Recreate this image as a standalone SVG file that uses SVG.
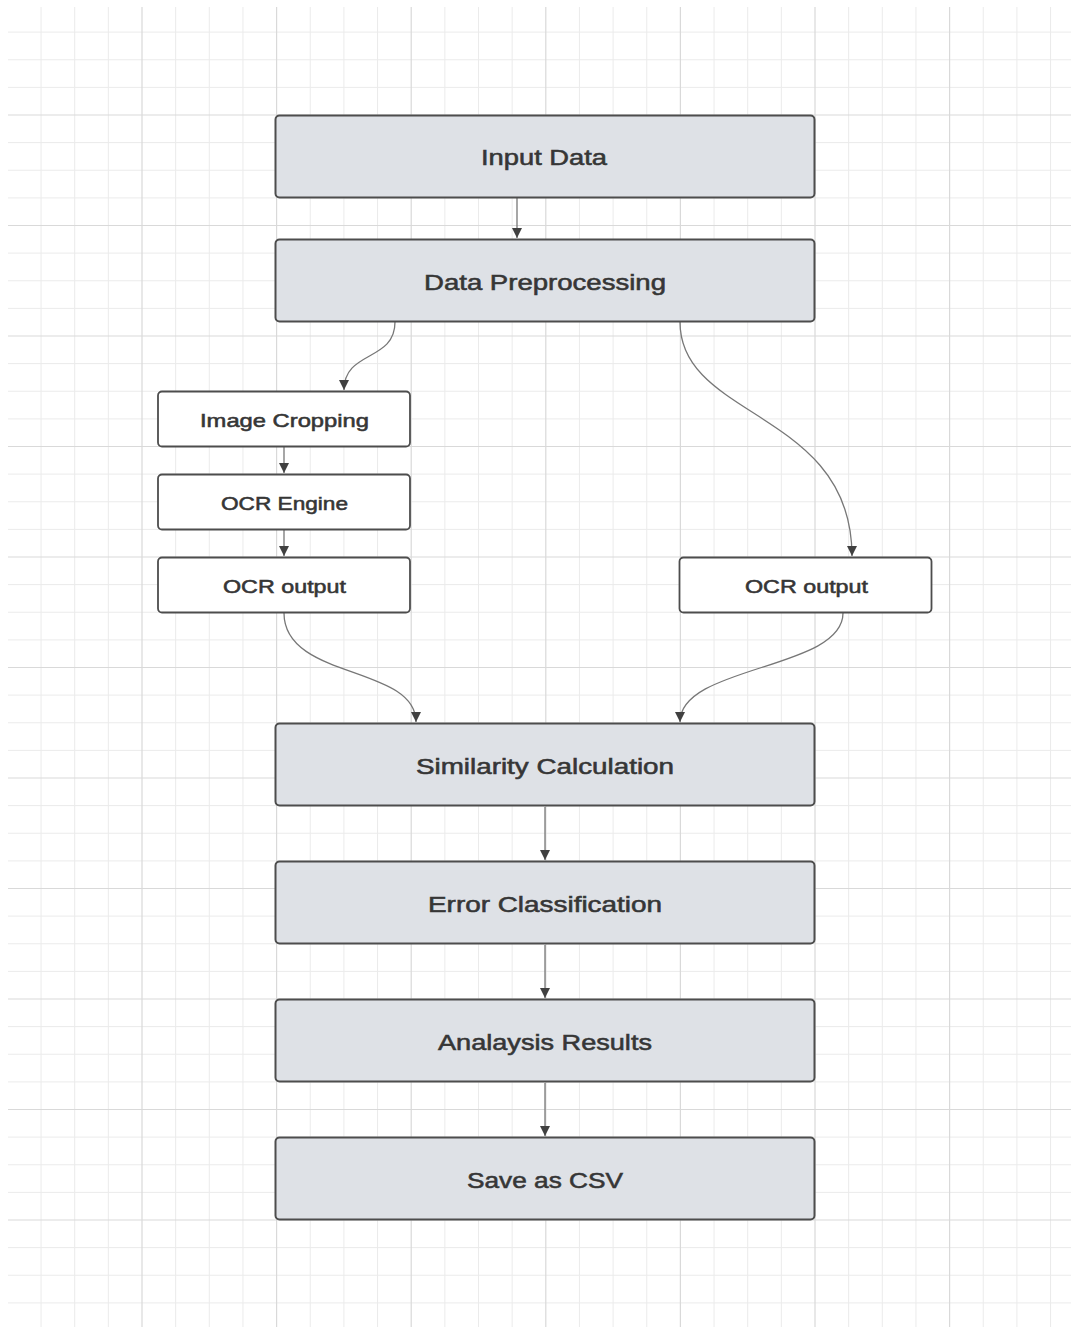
<svg xmlns="http://www.w3.org/2000/svg" width="1071" height="1327" viewBox="0 0 1071 1327">
<style>
.minor{stroke:#ebebeb;stroke-width:1;fill:none}
.major{stroke:#d9d9d9;stroke-width:1.2;fill:none}
.big{fill:#dee1e6;stroke:#4d4d4d;stroke-width:2}
.small{fill:#ffffff;stroke:#4d4d4d;stroke-width:1.8}
.lbl{font-family:"Liberation Sans",Arial,sans-serif;fill:#363636;stroke:#363636;stroke-width:0.55;text-anchor:middle}
.lb{font-size:22px}
.ls{font-size:19px}
.edge{fill:none;stroke:#777;stroke-width:1.3;marker-end:url(#arr)}
</style>
<defs>
<marker id="arr" viewBox="0 0 10 10" refX="10" refY="5" markerWidth="10" markerHeight="10" markerUnits="userSpaceOnUse" orient="auto">
<path d="M0,0 L10,5 L0,10 z" fill="#404040"/>
</marker>
</defs>
<rect x="0" y="0" width="1071" height="1327" fill="#ffffff"/>
<g id="grid">
<path class="minor" d="M41.05,7V1327M74.7,7V1327M108.35,7V1327M175.65,7V1327M209.3,7V1327M242.95,7V1327M310.25,7V1327M343.9,7V1327M377.55,7V1327M444.85,7V1327M478.5,7V1327M512.15,7V1327M579.45,7V1327M613.1,7V1327M646.75,7V1327M714.05,7V1327M747.7,7V1327M781.35,7V1327M848.65,7V1327M882.3,7V1327M915.95,7V1327M983.25,7V1327M1016.9,7V1327M1050.55,7V1327"/>
<path class="minor" d="M8,32.1H1071M8,59.75H1071M8,87.4H1071M8,142.6H1071M8,170.25H1071M8,197.9H1071M8,253.1H1071M8,280.75H1071M8,308.4H1071M8,363.6H1071M8,391.25H1071M8,418.9H1071M8,474.1H1071M8,501.75H1071M8,529.4H1071M8,584.6H1071M8,612.25H1071M8,639.9H1071M8,695.1H1071M8,722.75H1071M8,750.4H1071M8,805.6H1071M8,833.25H1071M8,860.9H1071M8,916.1H1071M8,943.75H1071M8,971.4H1071M8,1026.6H1071M8,1054.25H1071M8,1081.9H1071M8,1137.1H1071M8,1164.75H1071M8,1192.4H1071M8,1247.6H1071M8,1275.25H1071M8,1302.9H1071"/>
<path class="major" d="M142,7V1327M276.6,7V1327M411.2,7V1327M545.8,7V1327M680.4,7V1327M815,7V1327M949.6,7V1327"/>
<path class="major" d="M8,115H1071M8,225.5H1071M8,336H1071M8,446.5H1071M8,557H1071M8,667.5H1071M8,778H1071M8,888.5H1071M8,999H1071M8,1109.5H1071M8,1220H1071"/>
</g>
<g id="connectors">
<path class="edge" d="M517,198V238"/>
<path class="edge" d="M395,322C395,362 344,350 344,390"/>
<path class="edge" d="M284,447V473"/>
<path class="edge" d="M284,530V556"/>
<path class="edge" d="M680,322C680,420 852,410 852,556"/>
<path class="edge" d="M284,613C284,680 416,665 416,722"/>
<path class="edge" d="M843,613C843,670 680,665 680,722"/>
<path class="edge" d="M545,807V860"/>
<path class="edge" d="M545,945V998"/>
<path class="edge" d="M545,1083V1136"/>
</g>
<g id="input-data">
<rect class="big" x="275.5" y="115.5" width="539" height="82" rx="4"/>
<text class="lbl lb" x="544" y="165" textLength="126" lengthAdjust="spacingAndGlyphs">Input Data</text>
</g>
<g id="data-preprocessing">
<rect class="big" x="275.5" y="239.5" width="539" height="82" rx="4"/>
<text class="lbl lb" x="545" y="290" textLength="242" lengthAdjust="spacingAndGlyphs">Data Preprocessing</text>
</g>
<g id="image-cropping">
<rect class="small" x="158" y="391.5" width="252" height="55" rx="4"/>
<text class="lbl ls" x="284.5" y="427" textLength="169" lengthAdjust="spacingAndGlyphs">Image Cropping</text>
</g>
<g id="ocr-engine">
<rect class="small" x="158" y="474.5" width="252" height="55" rx="4"/>
<text class="lbl ls" x="284.5" y="510" textLength="127" lengthAdjust="spacingAndGlyphs">OCR Engine</text>
</g>
<g id="ocr-output-left">
<rect class="small" x="158" y="557.5" width="252" height="55" rx="4"/>
<text class="lbl ls" x="284.5" y="593" textLength="123" lengthAdjust="spacingAndGlyphs">OCR output</text>
</g>
<g id="ocr-output-right">
<rect class="small" x="679.5" y="557.5" width="252" height="55" rx="4"/>
<text class="lbl ls" x="806.5" y="593" textLength="123" lengthAdjust="spacingAndGlyphs">OCR output</text>
</g>
<g id="similarity-calculation">
<rect class="big" x="275.5" y="723.5" width="539" height="82" rx="4"/>
<text class="lbl lb" x="545" y="774" textLength="258" lengthAdjust="spacingAndGlyphs">Similarity Calculation</text>
</g>
<g id="error-classification">
<rect class="big" x="275.5" y="861.5" width="539" height="82" rx="4"/>
<text class="lbl lb" x="545" y="912" textLength="234" lengthAdjust="spacingAndGlyphs">Error Classification</text>
</g>
<g id="analaysis-results">
<rect class="big" x="275.5" y="999.5" width="539" height="82" rx="4"/>
<text class="lbl lb" x="545" y="1050" textLength="214" lengthAdjust="spacingAndGlyphs">Analaysis Results</text>
</g>
<g id="save-as-csv">
<rect class="big" x="275.5" y="1137.5" width="539" height="82" rx="4"/>
<text class="lbl lb" x="545" y="1188" textLength="156" lengthAdjust="spacingAndGlyphs">Save as CSV</text>
</g>
</svg>
